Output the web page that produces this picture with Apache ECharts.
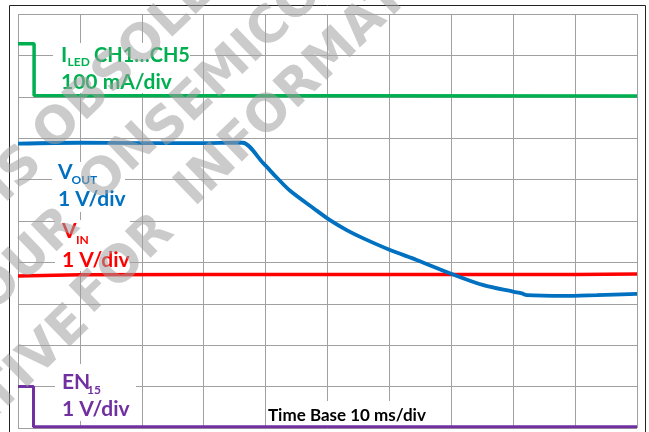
<!DOCTYPE html>
<html><head><meta charset="utf-8">
<script src="https://cdn.jsdelivr.net/npm/echarts@6/dist/echarts.min.js"></script>
<style>html,body{margin:0;padding:0;background:#fff}#c{width:649px;height:432px}</style>
</head><body><div id="c"></div>
<script>
// Time axis: ms (10 ms/div), vertical: screen divisions (0..10)
const timeTicks = [0,10,20,30,40,50,60,70,80,90,100];
const divTicks = [0,1,2,3,4,5,6,7,8,9,10];

const ledTime = [0, 2.6, 2.6, 100];
const ledDiv  = [9.28, 9.28, 8.03, 8.02];

const voutTime = [0, 10, 20, 30, 35.3, 36.3, 39.65, 41.8, 43.96, 47.73, 50.4, 53.1, 55.8, 60.1, 64.4, 70.1, 75.2, 80.1, 81.4, 82.2, 88.1, 93.5, 100];
const voutDiv  = [6.87, 6.89, 6.88, 6.88, 6.89, 6.89, 6.39, 6.05, 5.73, 5.31, 5.02, 4.78, 4.58, 4.30, 4.06, 3.72, 3.45, 3.29, 3.25, 3.21, 3.19, 3.21, 3.24];

const vinTime = [0, 10, 30, 50, 70, 90, 100];
const vinDiv  = [3.67, 3.70, 3.71, 3.71, 3.71, 3.71, 3.72];

const enTime = [0, 2.5, 2.5, 100];
const enDiv  = [1.0, 1.0, 0.03, 0.03];

const pairs = (xs, ys) => xs.map((x, i) => [x, ys[i]]);

const chart = echarts.init(document.getElementById('c'), null, {renderer: 'canvas'});

const GRID = '#a0a0a0';
const FONT = 'Lato';
function lbl(text, x, baseline, size, color) {
  return {
    type: 'text', z: 5, x: x, y: baseline - 0.37 * size,
    style: { text: text, x: 0, y: 0, fill: color, font: 'bold ' + size + 'px ' + FONT,
             textAlign: 'left', textVerticalAlign: 'middle' }
  };
}
function box(x, y, w, h) {
  return { type: 'rect', z: 1, shape: {x: x, y: y, width: w, height: h}, style: {fill: '#fff'} };
}
const ROT = 44 * Math.PI / 180;
function wm(text, x, y, align) {
  return {
    type: 'text', z: 20, x: x, y: y, rotation: ROT,
    style: { text: text, x: 0, y: 0, fill: 'rgba(160,160,160,0.55)',
             font: 'bold 51px "DejaVu Sans"', textAlign: align, textVerticalAlign: 'middle' }
  };
}

const G = '#00B050', B = '#0070C0', R = '#FF0000', P = '#7030A0';

chart.setOption({
  animation: false,
  backgroundColor: '#fff',
  grid: { left: 18, top: 14, right: 12, bottom: 4, show: false },
  xAxis: {
    type: 'value', min: timeTicks[0], max: timeTicks[timeTicks.length - 1], interval: 10,
    axisLine: { show: false }, axisTick: { show: false }, axisLabel: { show: false },
    splitLine: { show: true, lineStyle: { color: GRID, width: 1 } }
  },
  yAxis: {
    type: 'value', min: divTicks[0], max: divTicks[divTicks.length - 1], interval: 1,
    axisLine: { show: false }, axisTick: { show: false }, axisLabel: { show: false },
    splitLine: { show: true, lineStyle: { color: GRID, width: 1 } }
  },
  series: [
    { type: 'line', z: 3, data: pairs(ledTime, ledDiv), showSymbol: false, lineStyle: { color: G, width: 3.5 }, itemStyle: {color: G} },
    { type: 'line', z: 3, data: pairs(vinTime, vinDiv), showSymbol: false, lineStyle: { color: R, width: 3.5 }, itemStyle: {color: R} },
    { type: 'line', z: 4, data: pairs(voutTime, voutDiv), showSymbol: false, smooth: 0.3, lineStyle: { color: B, width: 3.8 }, itemStyle: {color: B} },
    { type: 'line', z: 3, data: pairs(enTime, enDiv), showSymbol: false, lineStyle: { color: P, width: 3 }, itemStyle: {color: P} }
  ],
  graphic: [
    { type: 'rect', z: 0, shape: {x: 9.5, y: 5.5, width: 636, height: 440}, style: {fill: 'none', stroke: '#222', lineWidth: 1} },
    box(53, 43, 137, 50), box(52, 162, 73, 50), box(55, 220, 75, 51), box(55, 364, 81, 57), box(267, 401, 178, 25),
    lbl('I', 61, 63, 21, G), lbl('LED', 67.5, 67, 12, G), lbl('CH1…CH5', 94, 63, 20, G),
    lbl('100 mA/div', 61, 90, 21, G),
    lbl('V', 58, 180, 21, B), lbl('OUT', 71.5, 185, 12, B), lbl('1 V/div', 58, 207.3, 21, B),
    lbl('V', 62, 239.5, 21, R), lbl('IN', 76, 245, 12, R), lbl('1 V/div', 62, 267.7, 21, R),
    lbl('EN', 62, 390, 21, P), lbl('15', 87, 395, 12, P), lbl('1 V/div', 62, 417, 21, P),
    lbl('Time Base 10 ms/div', 268, 421.5, 17, '#000'),
    wm('IS', 15, 175, 'center'), wm('OBSOLETE', 43, 143, 'left'),
    wm('YOUR', 15, 273, 'center'), wm('ON', 120, 164, 'center'), wm('SEMICONDUCTOR', 155, 140, 'left'),
    wm('REPRESENTATIVE', 82, 316, 'right'), wm('FOR', 124, 265, 'center'), wm('INFORMATION', 185, 198, 'left')
  ]
});
</script></body></html>
